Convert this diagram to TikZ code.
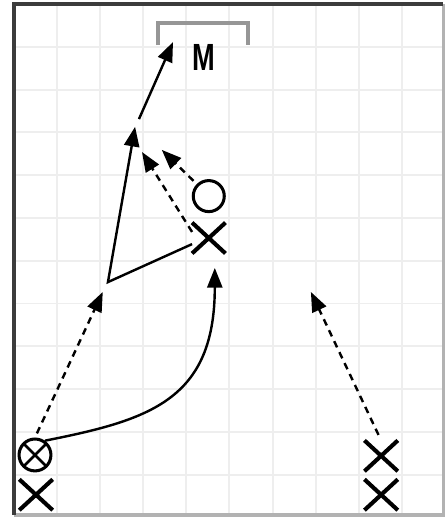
\documentclass[tikz,border=0pt]{standalone}
\usepackage{fontspec}
\setsansfont{Liberation Sans}
\usepackage{tikz}
\usetikzlibrary{arrows.meta, shapes.misc, calc}
\definecolor{framedark}{RGB}{60, 60, 60}
\definecolor{framelight}{RGB}{178, 178, 178}
\definecolor{gridgrey}{RGB}{238, 238, 238}
\definecolor{goalgrey}{RGB}{150, 150, 150}

\begin{document}
\begin{tikzpicture}[x=1cm, y=0.993cm,
  xplayer/.style={cross out, draw, line width=2.7pt, minimum width=0.68cm, minimum height=0.62cm, inner sep=0pt},
  oplayer/.style={circle, draw, line width=2pt, minimum size=0.72cm, inner sep=0pt},
  ballplayer/.style={circle, draw, line width=2pt, minimum size=0.74cm, inner sep=0pt,
    path picture={\draw[line width=1.8pt] (path picture bounding box.south west) -- (path picture bounding box.north east)
      (path picture bounding box.north west) -- (path picture bounding box.south east);}},
  pass/.style={line width=1.6pt, -{Triangle[length=13pt, width=10pt]}},
  run/.style={pass, dash pattern=on 4.5pt off 3.5pt}]
  \useasboundingbox (-0.325,0.093) rectangle (10.07,-11.99);

  % pitch grid
  \foreach \i in {1,...,9} \draw[gridgrey, line width=1.3pt] (\i,0) -- (\i,-11.94);
  \foreach \j in {1,...,11} \draw[gridgrey, line width=1.3pt] (0,-\j) -- (9.96,-\j);
  \draw[framelight, line width=2.2pt] (0,-11.94) -- (9.96,-11.94) -- (9.96,0);
  \draw[framedark, line width=2.2pt] (0,-11.94) -- (0,0) -- (9.96,0);

  % goal
  \draw[goalgrey, line width=2.2pt] (3.34,-0.96) -- (3.34,-0.444) -- (5.43,-0.444) -- (5.43,-0.96);
  \node[font=\sffamily\bfseries\fontsize{25}{25}\selectfont] (goal) at (4.41,-1.26) {\scalebox{0.72}[1]{M}};

  % players
  \node[oplayer] (o1) at (4.52,-4.49) {};
  \node[xplayer] (xm) at (4.52,-5.47) {};
  \node[ballplayer] (ox) at (0.487,-10.54) {};
  \node[xplayer] (xl) at (0.51,-11.47) {};
  \node[xplayer] (xr1) at (8.52,-10.56) {};
  \node[xplayer] (xr2) at (8.52,-11.47) {};

  \coordinate (v) at (2.18,-6.50);
  \coordinate (t1) at (2.81,-2.87);
  \coordinate (s2) at (2.90,-2.69);
  \coordinate (t2) at (3.69,-0.89);
  \coordinate (t3) at (2.97,-3.46);
  \coordinate (t4) at (3.43,-3.41);
  \coordinate (t5) at (2.06,-6.73);
  \coordinate (t6) at (4.66,-6.17);
  \coordinate (t7) at (6.89,-6.73);

  % movements
  \draw[pass] (xm.200) -- (v) -- (t1);
  \draw[pass] (s2) -- (t2);
  \draw[run] (xm.160) -- (t3);
  \draw[run, shorten <=3pt] (o1.135) -- (t4);
  \draw[run, shorten <=3pt] (ox.north) -- (t5);
  \draw[pass] (ox.55) .. controls (3.16,-9.72) and (4.66,-9.25) .. (t6);
  \draw[run, shorten <=4pt] (xr1.north) -- (t7);
\end{tikzpicture}
\end{document}
